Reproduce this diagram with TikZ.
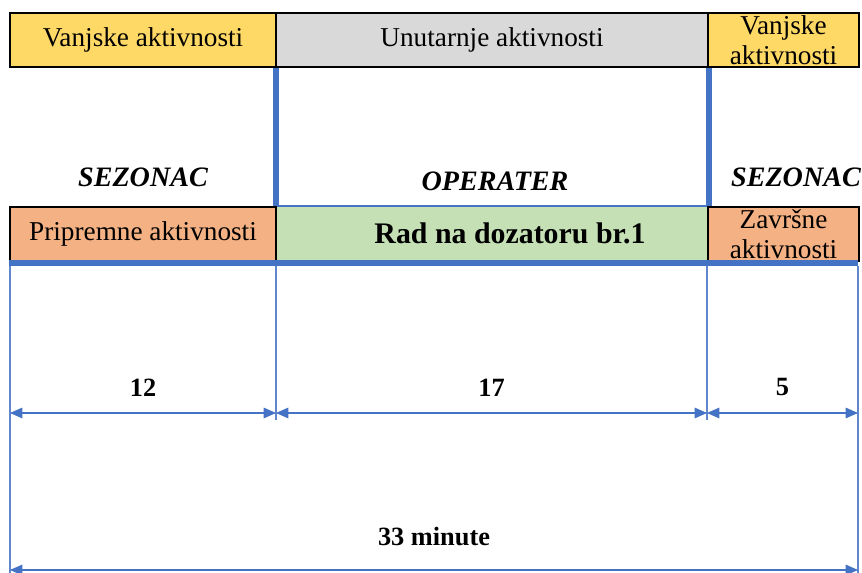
\documentclass[tikz,border=0pt]{standalone}
\usepackage{fontspec}
\setmainfont{Liberation Serif}
\usetikzlibrary{arrows.meta}
\definecolor{vanjska}{HTML}{FFD966}
\definecolor{unutarnja}{HTML}{D9D9D9}
\definecolor{priprema}{HTML}{F4B183}
\definecolor{rad}{HTML}{C5E0B4}
\definecolor{plava}{HTML}{4472C4}
\tikzset{
  box/.style={draw=black, line width=1.2pt, inner sep=0pt, anchor=north west,
    minimum height=1.08cm, align=center, font=\fontsize{15.5}{17.2}\selectfont},
  razdjel/.style={draw=plava, line width=3.4pt},
  tanka/.style={draw=plava!85, line width=0.6pt},
  mjera/.style={{Triangle[length=7pt,width=6pt]}-{Triangle[length=7pt,width=6pt]}, draw=plava, fill=plava, line width=0.6pt},
  uloga/.style={font=\fontsize{16}{19}\selectfont\bfseries\itshape},
  broj/.style={font=\fontsize{15}{18}\selectfont\bfseries},
}
\begin{document}
\begin{tikzpicture}[x=0.02cm, y=-0.02cm]
  \useasboundingbox (0,0) rectangle (862,573);
  % gornji red
  \node[box, fill=vanjska, minimum width=5.32cm] (vanjL) at (9,12) {Vanjske aktivnosti};
  \node[box, fill=unutarnja, minimum width=8.64cm] (unut) at (275,12) {Unutarnje aktivnosti};
  \node[box, fill=vanjska, minimum width=3.02cm] (vanjD) at (707,12) {Vanjske\\aktivnosti};
  % donji red
  \node[box, draw=none, fill=rad, minimum width=8.62cm] (radD) at (276,206) {};
  \node[font=\fontsize{17}{20}\selectfont\bfseries] (radT) at (510,233) {Rad na dozatoru br.1};
  \draw[plava, line width=1.5pt] (radD.north west) -- (radD.north east);
  \node[box, fill=priprema, minimum width=5.32cm] (prip) at (9,206) {Pripremne aktivnosti};
  \node[box, fill=priprema, minimum width=3.02cm] (zavr) at (707,206) {Završne\\aktivnosti};
  % uloge
  \node[uloga] (sez1) at (143,177) {SEZONAC};
  \node[uloga] (oper) at (495,181) {OPERATER};
  \node[uloga] (sez2) at (796,177) {SEZONAC};
  % razdjelnice
  \draw[razdjel] (radD.north west |- unut.south) -- (radD.north west);
  \draw[razdjel] (radD.north east |- unut.south) -- (radD.north east);
  \coordinate (lijevo) at (9,263);
  \coordinate (desno) at (858,263);
  \draw[razdjel] (lijevo) -- (desno);
  % mjere
  \foreach \i/\x/\k in {0/10/573,1/276/420,2/707/420,3/858/573} {
    \coordinate (v\i) at (\x,266);
    \coordinate (k\i) at (\x,\k);
    \coordinate (m\i) at (\x,413);
    \coordinate (n\i) at (\x,570);
    \draw[tanka] (v\i) -- (k\i);
  }
  \draw[mjera] (m0) -- (m1) node[midway, above=6pt, broj] {12};
  \draw[mjera] (m1) -- (m2) node[midway, above=6pt, broj] {17};
  \draw[mjera] (m2) -- (m3) node[midway, above=6pt, broj] {5};
  \draw[mjera] (n0) -- (n3) node[midway, above=10pt, broj] {33 minute};
\end{tikzpicture}
\end{document}
